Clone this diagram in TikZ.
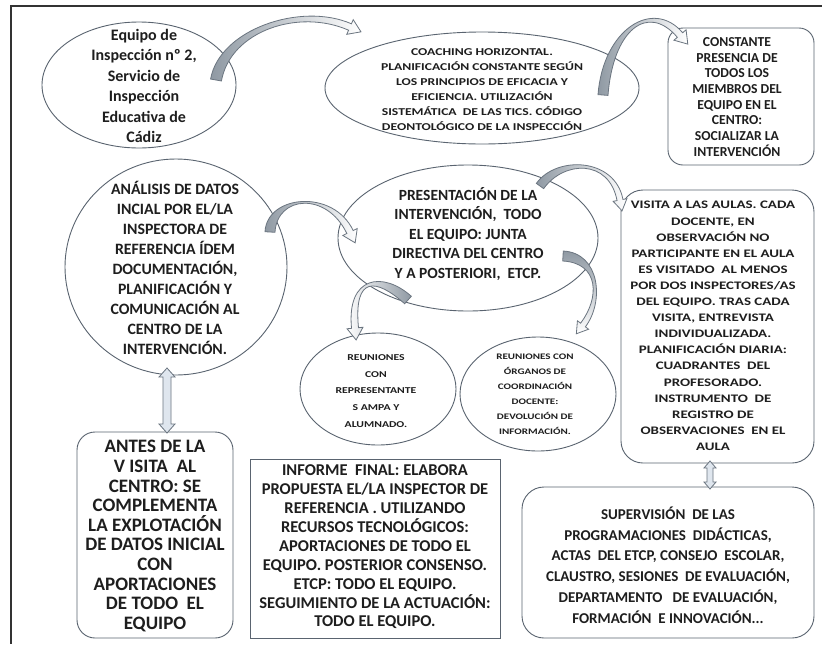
\documentclass[tikz,border=0pt]{standalone}
\usepackage{fontspec}
\setmainfont{Carlito}
\newfontfamily\widef{Carlito}[FakeStretch=1.3]
\usetikzlibrary{shapes.geometric,calc}
\definecolor{shapeline}{HTML}{5A6470}
\definecolor{txtc}{HTML}{1E1E1E}
\definecolor{arrline}{HTML}{6B7580}
\definecolor{arrdark}{HTML}{8F99A3}
\definecolor{dblfill}{HTML}{DFE6EE}
\definecolor{framec}{HTML}{333333}
\newcommand{\fs}[2]{\fontsize{#1}{#2}\selectfont\bfseries}
% curved block arrow: #1 tail, #2 ctrl1, #3 ctrl2, #4 head base, #5 half width at tail, #6 half width at head, #7 head half width, #8 head length, #9 style
\newcommand{\carrow}[9]{%
  \path[#9] ($(#1)!#5!90:(#2)$) .. controls ($(#2)!#5!-90:(#1)$) and ($(#3)!#6!90:(#4)$) .. ($(#4)!#6!-90:(#3)$)
    -- ($(#4)!#7!-90:(#3)$) -- ($(#4)!-#8!(#3)$) -- ($(#4)!#7!90:(#3)$)
    -- ($(#4)!#6!90:(#3)$) .. controls ($(#3)!#6!-90:(#4)$) and ($(#2)!#5!90:(#1)$) .. ($(#1)!#5!-90:(#2)$) -- cycle;}
% double hollow arrow between #1 (top) and #2 (bottom); #3 shaft half width, #4 head half width, #5 head length
\newcommand{\dblarrow}[5]{%
  \path[dbl] (#1) -- ++(#4,#5) -- ++(-#4+#3,0) -- ($(#2)+(#3,-#5)$) -- ++(#4-#3,0) -- (#2)
    -- ++(-#4,-#5) -- ++(#4-#3,0) -- ($(#1)+(-#3,#5)$) -- ++(-#4+#3,0) -- cycle;}
\tikzset{
  shp/.style={draw=shapeline, line width=0.9pt, fill=white},
  ell/.style={shp, ellipse, inner sep=0pt},
  rbox/.style={shp, rectangle, rounded corners=#1, inner sep=0pt},
  sbox/.style={shp, rectangle, inner sep=0pt},
  txt/.style={align=center, text=txtc, inner sep=0pt},
  frame/.style={draw=framec, line width=2pt},
  dbl/.style={draw=arrline, line width=0.8pt, fill=dblfill},
  arrLR/.style={draw=arrline, line width=0.8pt, left color=arrdark, right color=white},
  arrRL/.style={draw=arrline, line width=0.8pt, right color=arrdark, left color=white},
  arrTB/.style={draw=arrline, line width=0.8pt, top color=arrdark, bottom color=white},
}
\begin{document}
\begin{tikzpicture}[x=1pt,y=-1pt]
\useasboundingbox (0,0) rectangle (822,646);
\fill[white] (0,0) rectangle (822,646);
\draw[frame] (10,6) -- (822,6);
\draw[frame] (11,5) -- (11,644);

% shapes
\node[ell, minimum width=194pt, minimum height=126pt] (A) at (139,85) {};
\node[ell, minimum width=314pt, minimum height=112pt] (B) at (482,88) {};
\node[rbox=15pt, minimum width=146pt, minimum height=137pt] (C) at (741,96.5) {};
\node[ell, minimum width=222pt, minimum height=216pt] (D0) at (176,267) {};
\node[ell, minimum width=260pt, minimum height=146pt] (D) at (468,238) {};
\node[ell, minimum width=156pt, minimum height=112pt] (E1) at (378,389) {};
\node[ell, minimum width=156pt, minimum height=114pt] (E2) at (538,394) {};
\node[rbox=22pt, minimum width=193pt, minimum height=273pt] (F) at (717.5,326.5) {};
\node[rbox=18pt, minimum width=156pt, minimum height=206pt] (E) at (155,535) {};
\node[sbox, minimum width=250pt, minimum height=179pt] (G) at (375,548.5) {};
\node[rbox=22pt, minimum width=292pt, minimum height=151pt] (H) at (668,562.5) {};

% curved arrows
\coordinate (abT) at (216,80); \coordinate (abC1) at (225,30); \coordinate (abC2) at (300,5); \coordinate (abH) at (350,27);
\carrow{abT}{abC1}{abC2}{abH}{5.5pt}{3.5pt}{8pt}{12pt}{arrLR}
\coordinate (bcT) at (603,95); \coordinate (bcC1) at (608,30); \coordinate (bcC2) at (650,0); \coordinate (bcH) at (680,35);
\carrow{bcT}{bcC1}{bcC2}{bcH}{5pt}{3.5pt}{8pt}{12pt}{arrLR}
\coordinate (cdT) at (270,232); \coordinate (cdC1) at (272,195); \coordinate (cdC2) at (330,190); \coordinate (cdH) at (350,232);
\carrow{cdT}{cdC1}{cdC2}{cdH}{5pt}{3.5pt}{8pt}{12pt}{arrLR}
\coordinate (d1T) at (408,300); \coordinate (d1C1) at (380,275); \coordinate (d1C2) at (350,275); \coordinate (d1H) at (355,328);
\carrow{d1T}{d1C1}{d1C2}{d1H}{5pt}{3.5pt}{8pt}{12pt}{arrRL}
\coordinate (d2T) at (563,256); \coordinate (d2C1) at (600,258); \coordinate (d2C2) at (602,300); \coordinate (d2H) at (583,325);
\carrow{d2T}{d2C1}{d2C2}{d2H}{5pt}{3pt}{7pt}{11pt}{arrTB}
\coordinate (dfT) at (540,186); \coordinate (dfC1) at (560,158); \coordinate (dfC2) at (612,158); \coordinate (dfH) at (620,200);
\carrow{dfT}{dfC1}{dfC2}{dfH}{4.5pt}{3pt}{7pt}{11pt}{arrLR}

% double arrows
\coordinate (ueT) at (167,368); \coordinate (ueB) at (167,433);
\dblarrow{ueT}{ueB}{4}{8}{9}
\coordinate (fhT) at (710,461); \coordinate (fhB) at (710,489);
\dblarrow{fhT}{fhB}{3}{6}{7}

% texts
\node[txt, font=\fs{16}{20.5}] (At) at (144,86) {Equipo de\\Inspección nº 2,\\Servicio de\\Inspección\\Educativa de\\Cádiz};
\node[txt, font=\widef\fs{10.5}{15}] (Bt) at (482,90) {COACHING HORIZONTAL.\\PLANIFICACIÓN CONSTANTE SEGÚN\\LOS PRINCIPIOS DE EFICACIA Y\\EFICIENCIA. UTILIZACIÓN\\SISTEMÁTICA\ \ DE LAS TICS. CÓDIGO\\DEONTOLÓGICO DE LA INSPECCIÓN};
\node[txt, font=\fs{13.7}{15.7}] (Ct) at (737,97) {CONSTANTE\\PRESENCIA DE\\TODOS LOS\\MIEMBROS DEL\\EQUIPO EN EL\\CENTRO:\\SOCIALIZAR LA\\INTERVENCIÓN};
\node[txt, font=\fs{15.8}{20}] (D0t) at (175,268) {ANÁLISIS DE DATOS\\INCIAL POR EL/LA\\INSPECTORA DE\\REFERENCIA ÍDEM\\DOCUMENTACIÓN,\\PLANIFICACIÓN Y\\COMUNICACIÓN AL\\CENTRO DE LA\\INTERVENCIÓN.};
\node[txt, font=\fs{15.5}{19.5}] (Dt) at (468,234) {PRESENTACIÓN DE LA\\INTERVENCIÓN,\ \ TODO\\EL EQUIPO: JUNTA\\DIRECTIVA DEL CENTRO\\Y A POSTERIORI,\ \ ETCP.};
\node[txt, font=\widef\fs{9}{16.7}] (E1t) at (376,391) {REUNIONES\\CON\\REPRESENTANTE\\S AMPA Y\\ALUMNADO.};
\node[txt, font=\widef\fs{8.5}{15}] (E2t) at (535,394) {REUNIONES CON\\ÓRGANOS DE\\COORDINACIÓN\\DOCENTE:\\DEVOLUCIÓN DE\\INFORMACIÓN.};
\node[txt, font=\widef\fs{11.5}{16.1}] (Ft) at (713,326) {VISITA A LAS AULAS. CADA\\DOCENTE, EN\\OBSERVACIÓN NO\\PARTICIPANTE EN EL AULA\\ES VISITADO\ \ AL MENOS\\POR DOS INSPECTORES/AS\\DEL EQUIPO. TRAS CADA\\VISITA, ENTREVISTA\\INDIVIDUALIZADA.\\PLANIFICACIÓN DIARIA:\\CUADRANTES\ \ DEL\\PROFESORADO.\\INSTRUMENTO\ \ DE\\REGISTRO DE\\OBSERVACIONES\ \ EN EL\\AULA};
\node[txt, font=\fs{19}{19.6}] (Et) at (155,536) {ANTES DE LA\\V ISITA\ \ AL\\CENTRO: SE\\COMPLEMENTA\\LA EXPLOTACIÓN\\DE DATOS INICIAL\\CON\\APORTACIONES\\DE TODO\ \ EL\\EQUIPO};
\node[txt, font=\fs{16.5}{18.9}] (Gt) at (375,547) {INFORME\ \ FINAL: ELABORA\\PROPUESTA EL/LA INSPECTOR DE\\REFERENCIA . UTILIZANDO\\RECURSOS TECNOLÓGICOS:\\APORTACIONES DE TODO EL\\EQUIPO. POSTERIOR CONSENSO.\\ETCP: TODO EL EQUIPO.\\SEGUIMIENTO DE LA ACTUACIÓN:\\TODO EL EQUIPO.};
\node[txt, font=\fs{15}{20.8}] (Ht) at (668,565) {SUPERVISIÓN\ \ DE LAS\\PROGRAMACIONES\ \ DIDÁCTICAS,\\ACTAS\ \ DEL ETCP, CONSEJO\ \ ESCOLAR,\\CLAUSTRO, SESIONES\ \ DE EVALUACIÓN,\\DEPARTAMENTO\ \ \ DE EVALUACIÓN,\\FORMACIÓN\ \ E INNOVACIÓN...};
\end{tikzpicture}
\end{document}
